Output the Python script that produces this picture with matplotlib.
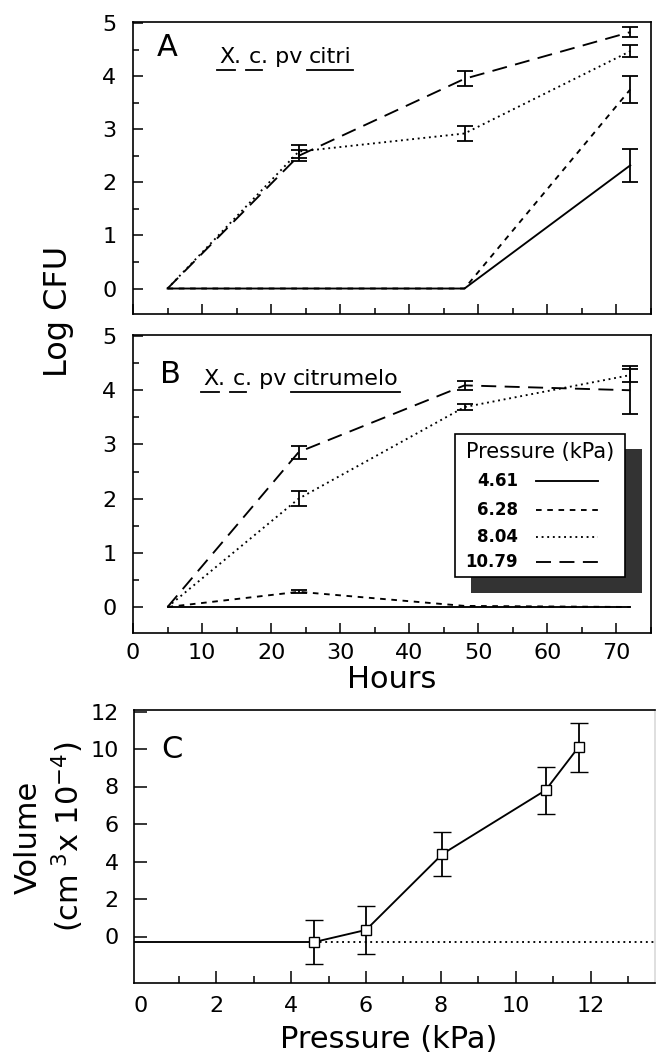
import matplotlib
matplotlib.use('Agg')
import matplotlib.pyplot as plt
import numpy as np
from matplotlib.patches import Rectangle
from matplotlib.lines import Line2D
from matplotlib.ticker import MultipleLocator

plt.rcParams['font.family'] = ['DejaVu Sans']

# sampling times (h)
hours = np.array([5, 24, 48, 72])

# panel A, X. c. pv citri  (log CFU)
a_461 = np.array([0, 0, 0, 2.32]);     a_461_err = np.array([0, 0, 0, 0.31])
a_628 = np.array([0, 0, 0, 3.75]);     a_628_err = np.array([0, 0, 0, 0.26])
a_804 = np.array([0, 2.58, 2.92, 4.47]); a_804_err = np.array([0, 0.12, 0.14, 0.11])
a_1079 = np.array([0, 2.5, 3.95, 4.83]); a_1079_err = np.array([0, 0.10, 0.14, 0.10])

# panel B, X. c. pv citrumelo
b_461 = np.array([0, 0, 0, 0]);          b_461_err = np.array([0, 0, 0, 0])
b_628 = np.array([0, 0.28, 0.02, 0]);    b_628_err = np.array([0, 0.03, 0, 0])
b_804 = np.array([0, 2.0, 3.69, 4.28]);  b_804_err = np.array([0, 0.14, 0.06, 0.12])
b_1079 = np.array([0, 2.86, 4.09, 4.0]); b_1079_err = np.array([0, 0.12, 0.08, 0.44])

# panel C, volume vs pressure
pressure = np.array([4.61, 6.0, 8.04, 10.79, 11.67])
volume = np.array([-0.3, 0.35, 4.4, 7.8, 10.1])
volume_err = np.array([1.17, 1.3, 1.17, 1.25, 1.3])
baseline = -0.3

legend_labels = ['4.61', '6.28', '8.04', '10.79']

styles = [dict(linestyle='-'),
          dict(linestyle=(0, (3, 3))),
          dict(linestyle=(0, (1, 2))),
          dict(linestyle=(0, (8, 4.5)))]
LW = 1.35

fig = plt.figure(figsize=(6.57, 10.6), dpi=100)
W, H = 657., 1060.


def ax_at(x0, x1, y0, y1):
    return fig.add_axes([x0 / W, 1 - y1 / H, (x1 - x0) / W, (y1 - y0) / H])


axA = ax_at(133, 651, 22, 314)
axB = ax_at(133, 651, 335, 633)
axC = ax_at(134, 655, 710, 983)


def style_axes(ax):
    for s in ax.spines.values():
        s.set_linewidth(1.2)
    ax.tick_params(which='both', direction='in', width=1.1, labelsize=16)
    ax.tick_params(which='major', length=7)
    ax.tick_params(which='minor', length=4)


def draw_series(ax, series):
    for (y, e), st in zip(series, styles):
        ax.plot(hours, y, color='k', lw=LW, **st)
        m = e > 0
        ax.errorbar(hours[m], y[m], yerr=e[m], fmt='none', ecolor='k',
                    elinewidth=1.3, capsize=6, capthick=1.3)


for ax in (axA, axB):
    style_axes(ax)
    ax.set_xlim(0, 75)
    ax.set_ylim(-0.48, 5.02)
    ax.xaxis.set_major_locator(MultipleLocator(10))
    ax.xaxis.set_minor_locator(MultipleLocator(5))
    ax.yaxis.set_major_locator(MultipleLocator(1))
    ax.yaxis.set_minor_locator(MultipleLocator(0.5))
    ax.tick_params(axis='y', pad=12)
    ax.tick_params(axis='x', pad=7)

axA.tick_params(axis='x', labelbottom=False)

draw_series(axA, [(a_461, a_461_err), (a_628, a_628_err), (a_804, a_804_err), (a_1079, a_1079_err)])
draw_series(axB, [(b_461, b_461_err), (b_628, b_628_err), (b_804, b_804_err), (b_1079, b_1079_err)])

# panel C
style_axes(axC)
axC.set_xlim(-0.19, 13.71)
axC.set_ylim(-2.48, 12.08)
axC.set_xticks(np.arange(0, 13, 2))
axC.xaxis.set_minor_locator(MultipleLocator(1))
axC.set_yticks(np.arange(0, 13, 2))
axC.tick_params(axis='y', pad=11)
axC.tick_params(axis='x', pad=9)
axC.tick_params(which='major', length=9)
axC.tick_params(which='minor', length=5)
axC.xaxis.get_major_ticks()[0].tick1line.set_visible(False)
axC.spines['right'].set_color('0.85')
axC.plot([-0.19, pressure[0]], [baseline, baseline], color='k', lw=LW)
axC.plot([pressure[0], 13.71], [baseline, baseline], color='k', lw=LW, linestyle=(0, (1, 2)))
axC.errorbar(pressure, volume, yerr=volume_err, color='k', lw=LW, ecolor='k',
             elinewidth=1.3, capsize=6.5, capthick=1.3, marker='s', ms=7,
             mfc='white', mec='k', mew=1.0)

# panel letters
axA.text(0.046, 0.885, 'A', transform=axA.transAxes, fontsize=22, va='baseline')
axB.text(0.052, 0.838, 'B', transform=axB.transAxes, fontsize=22, va='baseline')
axC.text(0.052, 0.824, 'C', transform=axC.transAxes, fontsize=22, va='baseline')

renderer = fig.canvas.get_renderer()


def species(ax, x, y, parts, size=16):
    # text pieces placed one after another, some of them underlined
    inv = ax.transAxes.inverted()
    for s, ul in parts:
        t = ax.text(x, y, s, transform=ax.transAxes, fontsize=size, va='baseline')
        bb = t.get_window_extent(renderer).transformed(inv)
        if ul:
            uy = y - 0.024
            ax.plot([bb.x0 - 0.004, bb.x1 + 0.002], [uy, uy], transform=ax.transAxes,
                    color='k', lw=1.3)
        x = bb.x1


species(axA, 0.166, 0.858, [('X', True), ('. ', False), ('c', True), ('. pv ', False), ('citri', True)])
species(axB, 0.135, 0.833, [('X', True), ('. ', False), ('c', True), ('. pv ', False), ('citrumelo', True)])

# legend with drop shadow (panel B)
axB.add_patch(Rectangle((0.653, 0.134), 0.330, 0.483, transform=axB.transAxes,
                        facecolor='0.2', edgecolor='none', zorder=4, clip_on=False))
axB.add_patch(Rectangle((0.622, 0.188), 0.328, 0.480, transform=axB.transAxes,
                        facecolor='white', edgecolor='k', lw=1.2, zorder=5, clip_on=False))
axB.text(0.786, 0.607, 'Pressure (kPa)', transform=axB.transAxes, fontsize=15,
         ha='center', va='center', zorder=6)
for lab, st, ry in zip(legend_labels, styles, [0.510, 0.413, 0.322, 0.238]):
    axB.text(0.743, ry, lab, transform=axB.transAxes, fontsize=12, fontweight='bold',
             ha='right', va='center', zorder=6)
    axB.add_line(Line2D([0.778, 0.898], [ry, ry], transform=axB.transAxes, color='k',
                        lw=LW, zorder=6, **st))

# axis titles
fig.text(58 / W, 1 - 311 / H, 'Log CFU', rotation=90, fontsize=23, ha='center', va='center')
fig.text(392 / W, 1 - 680 / H, 'Hours', fontsize=22, ha='center', va='center')
fig.text(389 / W, 1 - 1040 / H, 'Pressure (kPa)', fontsize=22, ha='center', va='center')
fig.text(50 / W, 1 - 837 / H, 'Volume\n(cm$^{\\ 3}$x 10$^{-4}$)', rotation=90, fontsize=22,
         ha='center', va='center', multialignment='center', linespacing=1.2)

fig.savefig('out.png', dpi=100)
